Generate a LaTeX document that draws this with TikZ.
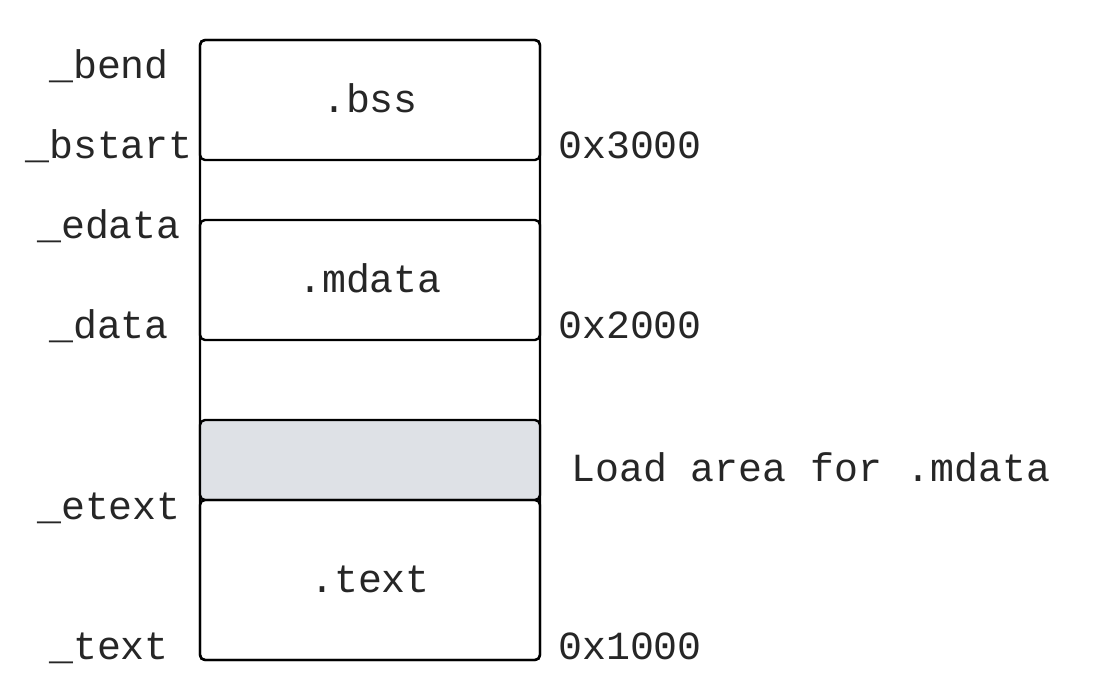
\documentclass[tikz,border=0pt]{standalone}
\usepackage{fontspec}
\setmonofont{Liberation Mono}
\definecolor{loadgray}{HTML}{DEE1E6}
\begin{document}
\begin{tikzpicture}[x=1pt,y=-1pt,
  seg/.style={draw=black,line width=2.4pt,rounded corners=5pt},
  lbl/.style={font=\ttfamily\fontsize{39.9}{40}\selectfont,text=black!85,inner sep=0pt,anchor=base}]
\useasboundingbox (0,0) rectangle (1100,700);
% outer frame
\draw[seg] (200,40) rectangle (540,660);
% sections
\node[seg,minimum width=340pt,minimum height=120pt,inner sep=0pt] (bss) at (370,100) {};
\node[seg,minimum width=340pt,minimum height=120pt,inner sep=0pt] (mdata) at (370,280) {};
\node[seg,fill=loadgray,minimum width=340pt,minimum height=80pt,inner sep=0pt] (load) at (370,460) {};
\node[seg,minimum width=340pt,minimum height=160pt,inner sep=0pt] (text) at (370,580) {};
% box labels
\node[lbl] (bssl) at (370,113) {.bss};
\node[lbl] (mdatal) at (370,293) {.mdata};
\node[lbl] (textl) at (370,592) {.text};
% left labels
\node[lbl] (bend) at (109,79) {\_bend};
\node[lbl] (bstart) at (109,159) {\_bstart};
\node[lbl] (edata) at (109,239) {\_edata};
\node[lbl] (data) at (109,339) {\_data};
\node[lbl] (etext) at (109,519) {\_etext};
\node[lbl] (textsym) at (109,659) {\_text};
% right labels
\node[lbl,anchor=base west] (a3) at (558,159) {0x3000};
\node[lbl,anchor=base west] (a2) at (558,339) {0x2000};
\node[lbl,anchor=base west] (a1) at (558,659) {0x1000};
\node[lbl,anchor=base west] (loadl) at (571,481) {Load area for .mdata};
\end{tikzpicture}
\end{document}
